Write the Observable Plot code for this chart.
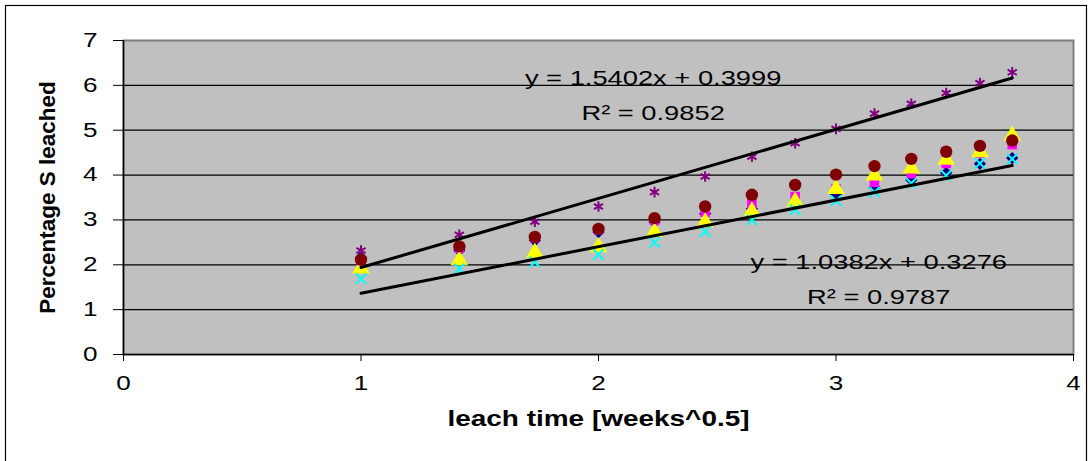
<!DOCTYPE html>
<html>
<head>
<meta charset="utf-8">
<script src="https://cdn.jsdelivr.net/npm/d3@7"></script>
<script src="https://cdn.jsdelivr.net/npm/@observablehq/plot@0.6"></script>
<style>
  html, body { margin: 0; padding: 0; background: #fff; }
  #chart { width: 1092px; height: 461px; overflow: hidden; }
  svg { font-family: "Liberation Sans", Arial, sans-serif; }
</style>
</head>
<body>
<div id="chart"></div>
<script>
// leach time in weeks^0.5
const xWeeks = [1, 1.414, 1.732, 2, 2.236, 2.449, 2.646, 2.828, 3, 3.162, 3.317, 3.464, 3.606, 3.742];

// Percentage S leached per series
const series1 = [2.17, 2.32, 2.54, 2.73, 2.95, 3.14, 3.25, 3.36, 3.57, 3.73, 3.89, 4.05, 4.25, 4.38]; // navy diamonds
const series2 = [2.07, 2.37, 2.60, 2.78, 2.99, 3.17, 3.36, 3.52, 3.69, 3.84, 4.03, 4.26, 4.49, 4.68]; // magenta squares
const series3 = [1.92, 2.10, 2.27, 2.39, 2.73, 2.95, 3.19, 3.41, 3.69, 3.99, 4.15, 4.34, 4.51, 4.88]; // yellow triangles
const series4 = [1.69, 1.91, 2.06, 2.23, 2.50, 2.74, 3.00, 3.23, 3.43, 3.62, 3.82, 3.99, 4.26, 4.36]; // cyan crosses
const series5 = [2.32, 2.67, 2.96, 3.30, 3.62, 3.97, 4.41, 4.71, 5.03, 5.37, 5.59, 5.83, 6.05, 6.29]; // purple stars
const series6 = [2.11, 2.41, 2.62, 2.80, 3.04, 3.30, 3.56, 3.78, 4.01, 4.20, 4.36, 4.52, 4.65, 4.77]; // dark red circles

const seriesNames = ["Series1", "Series2", "Series3", "Series4", "Series5", "Series6"];
const seriesValues = [series1, series2, series3, series4, series5, series6];
const seriesSymbols = ["diamond2", "square", "triangle", "times", "asterisk", "circle"];
const seriesColors = ["#000080", "#FF00FF", "#FFFF00", "#00FFFF", "#800080", "#800000"];
const seriesSizes = [5.5, 5.4, 6.5, 4.8, 5, 6.2];

// Linear trendlines
const trendSlopes = [1.5402, 1.0382];
const trendIntercepts = [0.3999, 0.3276];
const trendEquations = ["y = 1.5402x + 0.3999", "y = 1.0382x + 0.3276"];
const trendR2 = ["R² = 0.9852", "R² = 0.9787"];
const eqLabelX = [2.23, 3.18];
const eqLabelY = [6.15, 2.05];
const r2LabelY = [5.37, 1.27];

const xTicks = [0, 1, 2, 3, 4];
const yTicks = [0, 1, 2, 3, 4, 5, 6, 7];
const gridY = [1, 2, 3, 4, 5, 6];

// build tables
const points = seriesNames.map((name, i) =>
  xWeeks.map((x, j) => ({series: name, x, y: seriesValues[i][j]})));
const xMin = d3.min(xWeeks), xMax = d3.max(xWeeks);
const trendLines = trendSlopes.map((m, i) =>
  [xMin, xMax].map(x => ({x, y: m * x + trendIntercepts[i], k: i})));
const eqLabels = trendEquations.map((t, i) => ({x: eqLabelX[i], y: eqLabelY[i], text: t}))
  .concat(trendR2.map((t, i) => ({x: eqLabelX[i], y: r2LabelY[i], text: t})));

const markFor = (i) => {
  const filled = !["times", "asterisk"].includes(seriesSymbols[i]);
  return Plot.dot(points[i], {
    x: "x", y: "y",
    symbol: () => seriesSymbols[i],
    r: seriesSizes[i],
    fill: filled ? seriesColors[i] : "none",
    stroke: filled ? "none" : seriesColors[i],
    strokeWidth: filled ? 0 : 2
  });
};

const plot = Plot.plot({
  width: 1092,
  height: 461,
  marginLeft: 123,
  marginRight: 19,
  marginTop: 40,
  marginBottom: 107,
  style: {fontFamily: "Liberation Sans, Arial, sans-serif", background: "white", overflow: "visible"},
  x: {domain: [0, 4]},
  y: {domain: [0, 7]},
  symbol: {type: "identity"},
  marks: [
    Plot.frame({fill: "#C0C0C0", stroke: "#808080", strokeWidth: 2}),
    Plot.ruleY(gridY, {stroke: "#000", strokeWidth: 1.3}),
    Plot.axisY(yTicks, {tickSize: 10, tickPadding: 16, fontSize: 20, label: null, stroke: "#000", fill: "#000", tickFormat: d => String(d)}),
    Plot.axisX(xTicks, {tickSize: 7, tickPadding: 14, fontSize: 20, label: null, stroke: "#000", fill: "#000", tickFormat: d => String(d)}),
    ...[0, 1, 2, 3, 4, 5].map(markFor),
    ...trendLines.map(l => Plot.line(l, {x: "x", y: "y", stroke: "#000", strokeWidth: 3})),
    Plot.text(eqLabels, {x: "x", y: "y", text: "text", fontSize: 21, fill: "#000", textAnchor: "middle"}),
    Plot.ruleY([0], {stroke: "#000", strokeWidth: 1.5}),
    Plot.ruleX([0], {stroke: "#000", strokeWidth: 1.5}),
    Plot.text(["Percentage S leached"], {frameAnchor: "left", textAnchor: "middle", dx: -76, rotate: -90, fontSize: 22.5, fontWeight: "bold", fill: "#000"}),
    Plot.text(["leach time [weeks^0.5]"], {frameAnchor: "bottom", textAnchor: "middle", dy: 71, fontSize: 21.5, fontWeight: "bold", fill: "#000"})
  ]
});

document.getElementById("chart").appendChild(plot);

// outer chart border
d3.select(plot).append("rect")
  .attr("x", 5.5).attr("y", 5.5).attr("width", 1081).attr("height", 470)
  .attr("fill", "none").attr("stroke", "#000").attr("stroke-width", 1.2);

// widen horizontal text to match the stretched look of the original
d3.select(plot).selectAll("text").each(function() {
  const t = this;
  const tr = t.getAttribute("transform") || "";
  if (tr.includes("rotate")) return;
  const len = t.getComputedTextLength();
  if (len > 0) {
    t.setAttribute("textLength", (len * 1.3).toFixed(1));
    t.setAttribute("lengthAdjust", "spacingAndGlyphs");
  }
});
</script>
</body>
</html>
